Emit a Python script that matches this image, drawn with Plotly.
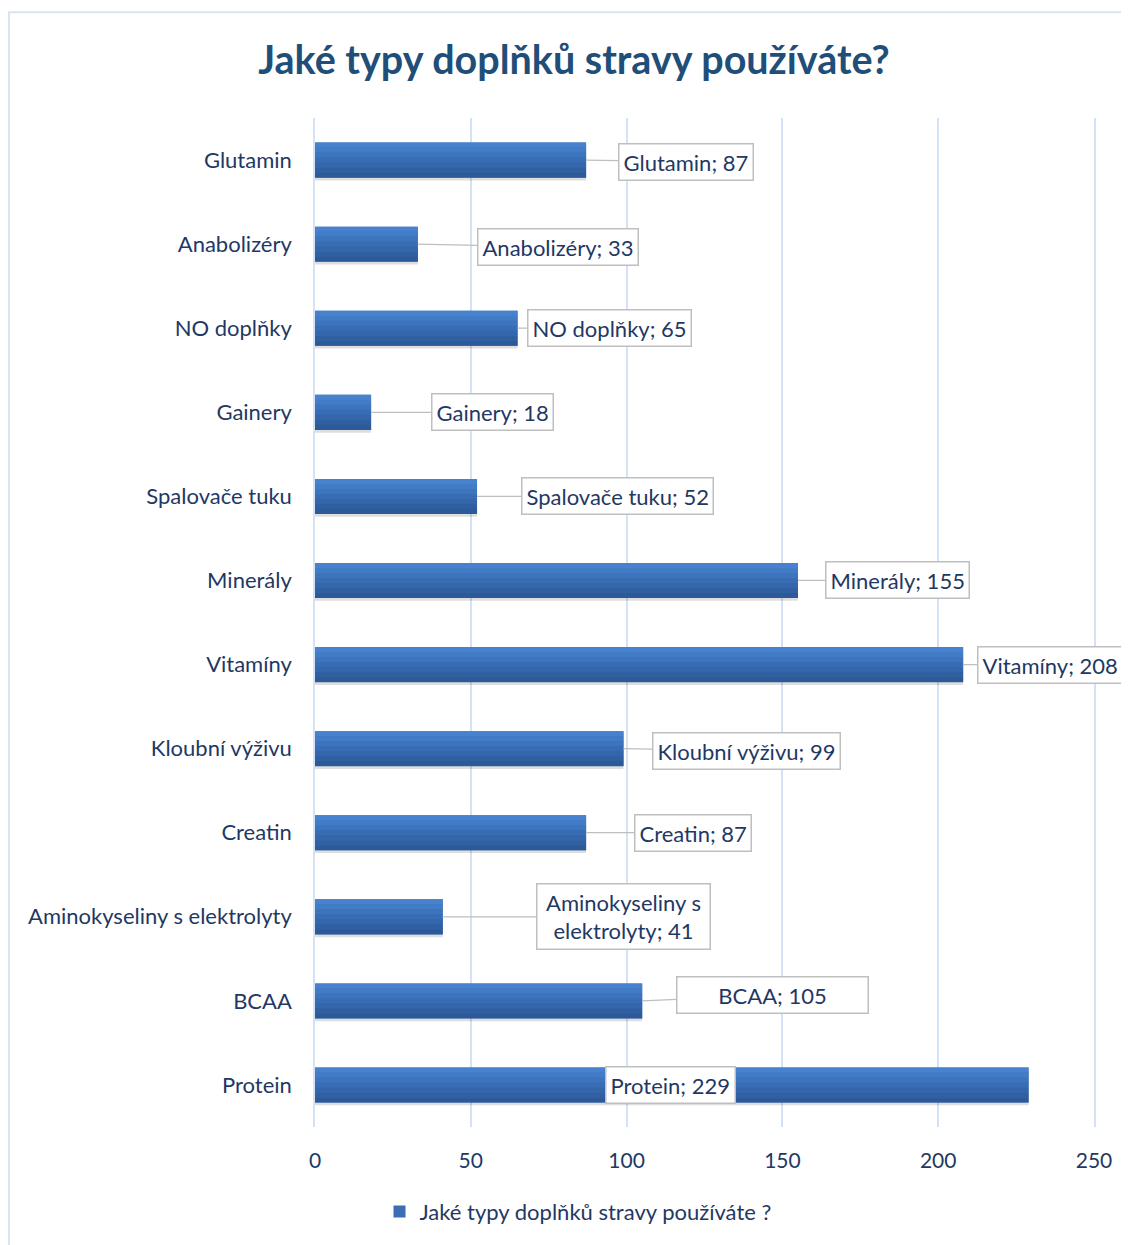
import plotly.graph_objects as go

# ---- data (top to bottom as displayed) ----
categories = ["Glutamin", "Anabolizéry", "NO doplňky", "Gainery", "Spalovače tuku",
              "Minerály", "Vitamíny", "Kloubní výživu", "Creatin",
              "Aminokyseliny s elektrolyty", "BCAA", "Protein"]
values = [87, 33, 65, 18, 52, 155, 208, 99, 87, 41, 105, 229]
label_texts = ["Glutamin; 87", "Anabolizéry; 33", "NO doplňky; 65", "Gainery; 18",
               "Spalovače tuku; 52", "Minerály; 155", "Vitamíny; 208",
               "Kloubní výživu; 99", "Creatin; 87", "Aminokyseliny s<br>elektrolyty; 41",
               "BCAA; 105", "Protein; 229"]
x_ticks = [0, 50, 100, 150, 200, 250]
series_name = "Jaké typy doplňků stravy používáte ?"
title_text = "Jaké typy doplňků stravy používáte?"

# ---- style: label offsets (pixels) and widths ----
label_dx = [100, 140, 92, 121, 140, 100, 87, 123, 107, 181, 130, -358]
label_dy = [2, 3, 0, 0, 0, 0, 0, 2, 0, 0, -6, 0]
label_w = [None, None, None, None, None, None, None, None, None, 164, 182, None]
label_arrow = [True] * 11 + [False]

NAVY = "#1F3864"
TITLE_C = "#1F4E79"
FONT = "Lato"
GRID = "#D3E2F4"
BAR_W = 0.415

# page has an 8px body margin; figure is laid out in its own coordinates
W, H = 1121, 1237
ML, MT, MR, MB = 307, 110, 35, 115
PW = W - ML - MR
PH = H - MT - MB


def px_to_paper_x(px):
    return (px - 8 - ML) / PW


def px_to_paper_y(py):
    return (H - MB - (py - 8)) / PH


fig = go.Figure()

# soft shadow
fig.add_trace(go.Bar(
    y=categories, x=values, orientation="h", width=BAR_W, offset=-BAR_W / 2 + 0.035,
    marker=dict(color="rgba(0,0,0,0.13)", line=dict(width=0)),
    showlegend=False, hoverinfo="skip"))

# main bar (legend entry)
fig.add_trace(go.Bar(
    y=categories, x=values, orientation="h", width=BAR_W, offset=-BAR_W / 2,
    name=series_name, marker=dict(color="#3A6FB8", line=dict(width=0)),
    showlegend=True))

# gradient slices (light at top -> dark at bottom)
grad = ["#4882CE", "#427BC6", "#3C74BD", "#386DB4", "#3466AB", "#3060A2", "#2C5A98"]
n = len(grad)
for k, c in enumerate(grad):
    fig.add_trace(go.Bar(
        y=categories, x=values, orientation="h", width=BAR_W / n + 0.002,
        offset=-BAR_W / 2 + k * BAR_W / n,
        marker=dict(color=c, line=dict(width=0)),
        showlegend=False, hoverinfo="skip"))

# data-label callouts
for cat, v, t, dx, dy, w, arr in zip(categories, values, label_texts, label_dx,
                                     label_dy, label_w, label_arrow):
    ann = dict(x=v, y=cat, xref="x", yref="y", text=t, showarrow=True,
               ax=dx, ay=dy, arrowhead=0, arrowwidth=1.3, standoff=0,
               arrowcolor="#BFBFBF" if arr else "rgba(0,0,0,0)",
               bgcolor="white", bordercolor="#BFBFBF", borderwidth=1.5, borderpad=4,
               font=dict(family=FONT, size=22, color=NAVY), align="center")
    if w:
        ann["width"] = w
    fig.add_annotation(**ann)

# chart area border
fig.add_shape(type="rect", xref="paper", yref="paper",
              x0=px_to_paper_x(9), x1=px_to_paper_x(1150),
              y0=px_to_paper_y(1270), y1=px_to_paper_y(12),
              line=dict(color="#D9E4F2", width=2), fillcolor="rgba(0,0,0,0)", layer="below")

fig.update_layout(
    width=W, height=H,
    margin=dict(l=ML, r=MR, t=MT, b=MB),
    paper_bgcolor="white", plot_bgcolor="white",
    barmode="overlay", bargap=0.5,
    title=dict(text="<b>" + title_text + "</b>", x=(574 - 8) / W, xanchor="center",
               y=1 - (60 - 8) / H, yanchor="middle",
               font=dict(family=FONT, size=39.5, color=TITLE_C)),
    font=dict(family=FONT, color=NAVY),
    legend=dict(orientation="h", x=px_to_paper_x(578), xanchor="center",
                y=px_to_paper_y(1215), yanchor="middle",
                font=dict(family=FONT, size=22, color=NAVY),
                itemwidth=30, bgcolor="rgba(0,0,0,0)"),
    showlegend=True,
)
fig.update_xaxes(range=[0, 250], tickvals=x_ticks, ticktext=[str(t) for t in x_ticks],
                 showgrid=True, gridcolor=GRID, gridwidth=1.5, zeroline=False,
                 showline=False, tickfont=dict(family=FONT, size=21, color=NAVY),
                 ticklabelstandoff=19, fixedrange=True)
fig.update_yaxes(categoryorder="array", categoryarray=categories, autorange="reversed",
                 showgrid=False, zeroline=False, showline=True, mirror=True,
                 linecolor=GRID, linewidth=1.5,
                 tickfont=dict(family=FONT, size=22, color=NAVY),
                 ticklabelstandoff=17, fixedrange=True)

fig.write_html("out.html")
